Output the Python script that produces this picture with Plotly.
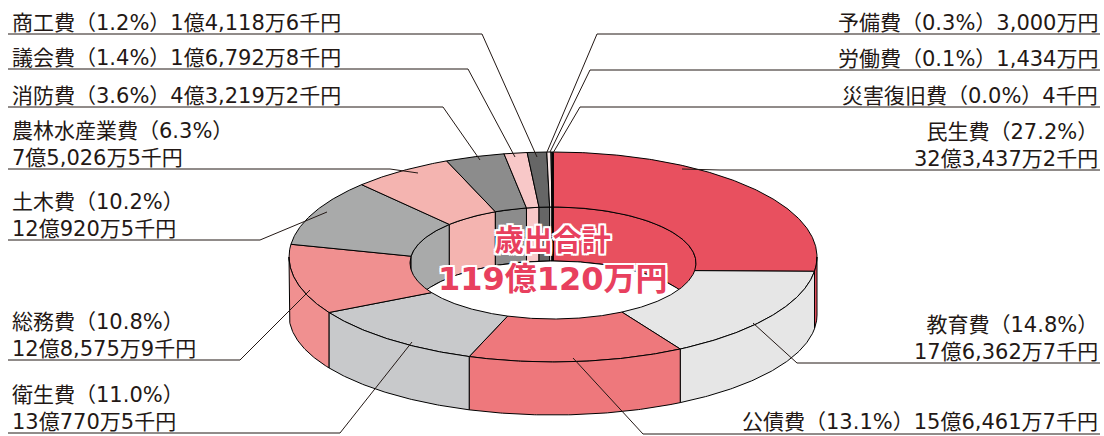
import numpy as np
import plotly.graph_objects as go

# ---------------- data ----------------
categories = ["民生費", "教育費", "公債費", "衛生費", "総務費", "土木費", "農林水産業費",
              "消防費", "議会費", "商工費", "予備費", "労働費", "災害復旧費"]
# amounts in 千円 (thousand yen)
amounts = [3234372, 1763627, 1564617, 1307705, 1285759, 1209205, 750265,
           432192, 167928, 141186, 30000, 14340, 4]
colors = ["#E8505F", "#E6E6E6", "#EE787C", "#C8C9CB", "#F09090", "#A9AAAA", "#F4B4B0",
          "#8C8C8C", "#F8C8C8", "#666666", "#FBE8E8", "#333333", "#000000"]
center_title = "歳出合計"
two_line = {"民生費", "教育費", "衛生費", "総務費", "土木費", "農林水産業費"}

# label layout: side, underline y, underline x-range, leader end point
label_layout = {
    "商工費": ("L", 34, (8, 482), (537, 157)),
    "議会費": ("L", 69, (8, 468), (515, 157)),
    "消防費": ("L", 107, (8, 443), (480, 160)),
    "農林水産業費": ("L", 169, (8, 390), (418, 173)),
    "土木費": ("L", 240, (8, 260), (327, 212)),
    "総務費": ("L", 360, (8, 240), (310, 290)),
    "衛生費": ("L", 433, (8, 340), (412, 342)),
    "予備費": ("R", 34, (597, 1100), (547, 152)),
    "労働費": ("R", 70, (590, 1100), (550, 152)),
    "災害復旧費": ("R", 107, (580, 1100), (553, 153)),
    "民生費": ("R", 170, (720, 1100), (682, 169)),
    "教育費": ("R", 363, (797, 1100), (753, 323)),
    "公債費": ("R", 434, (643, 1100), (573, 358)),
}

# ---------------- geometry (pixel space) ----------------
W, H = 1104, 436
CX, CY, RX, RY = 553, 257, 264, 105      # top face outer ellipse
BCY, BRY = 315, 100                      # bottom outer ellipse
ICY, IRX, IRY = 263, 143, 56             # top face inner ellipse (hole rim)
FCY, FRY = 315, 54                       # hole floor ellipse

total = sum(amounts)
bounds = np.concatenate([[0], np.cumsum(amounts)]) / total * 360.0


def ell(cy, rx, ry, t0, t1, n=None):
    if n is None:
        n = max(2, int(abs(t1 - t0) / 0.5) + 2)
    t = np.radians(np.linspace(t0, t1, n))
    return CX + rx * np.sin(t), cy - ry * np.cos(t)


def clip(a, b, lo, hi):
    s, e = max(a, lo), min(b, hi)
    return (s, e) if e - s > 1e-6 else None


fig = go.Figure()


def poly(xs, ys, color):
    fig.add_trace(go.Scatter(x=np.append(xs, xs[0]), y=np.append(ys, ys[0]), mode="lines",
                             fill="toself", fillcolor=color,
                             line=dict(color="#000000", width=1),
                             hoverinfo="skip", showlegend=False))


# 1. far inner wall of the hole (back half: -90..90)
for i in range(len(amounts)):
    a, b = bounds[i], bounds[i + 1]
    for lo, hi in [(270, 360), (0, 90)]:
        c = clip(a, b, lo, hi)
        if c is None:
            continue
        x1, y1 = ell(ICY, IRX, IRY, c[0], c[1])
        x2, y2 = ell(FCY, IRX, FRY, c[1], c[0])
        poly(np.concatenate([x1, x2]), np.concatenate([y1, y2]), colors[i])

# 2. hole floor
fx, fy = ell(FCY, IRX, FRY, 0, 360, 361)
poly(fx, fy, "#FFFFFF")

# 3. top face
for i in range(len(amounts)):
    a, b = bounds[i], bounds[i + 1]
    if b - a < 1e-6:
        continue
    x1, y1 = ell(CY, RX, RY, a, b)
    x2, y2 = ell(ICY, IRX, IRY, b, a)
    poly(np.concatenate([x1, x2]), np.concatenate([y1, y2]), colors[i])

# 4. outer side wall (front half: 90..270)
for i in range(len(amounts)):
    c = clip(bounds[i], bounds[i + 1], 90, 270)
    if c is None:
        continue
    x1, y1 = ell(CY, RX, RY, c[0], c[1])
    x2, y2 = ell(BCY, RX, BRY, c[1], c[0])
    poly(np.concatenate([x1, x2]), np.concatenate([y1, y2]), colors[i])


# ---------------- labels ----------------
def fmt_amount(v):
    oku, rest = divmod(v, 100000)
    man, sen = divmod(rest, 10)
    s = ""
    if oku:
        s += f"{oku}億"
    if man:
        s += f"{man:,}万"
    if sen:
        s += f"{sen}千"
    return s + "円"


def fmt_total(v):
    oku, rest = divmod(v, 100000)
    man = rest // 10
    return f"{oku}億{man}万円"


LABEL_FONT = dict(family="DejaVu Sans, Noto Sans CJK JP", size=21, color="#231815")
annotations = []
for i, name in enumerate(categories):
    side, uy, (ux0, ux1), (ex, ey) = label_layout[name]
    pct = amounts[i] / total * 100
    head = f"{name}（{pct:.1f}%）"
    amt = fmt_amount(amounts[i])
    text = f"{head}<br>{amt}" if name in two_line else f"{head}{amt}"
    ay = min(uy + 3, H - 0.5)
    if side == "L":
        lx = [ux0, ux1, ex]
        ly = [uy, uy, ey]
        annotations.append(dict(x=10, y=ay, text=text, xanchor="left", yanchor="bottom",
                                align="left", showarrow=False, font=LABEL_FONT))
    else:
        lx = [ex, ux0, ux1]
        ly = [ey, uy, uy]
        annotations.append(dict(x=1100, y=ay, text=text, xanchor="right", yanchor="bottom",
                                align="right", showarrow=False, font=LABEL_FONT))
    fig.add_trace(go.Scatter(x=lx, y=ly, mode="lines", line=dict(color="#231815", width=1),
                             hoverinfo="skip", showlegend=False))

shadow = ("2px 0 0 #fff, -2px 0 0 #fff, 0 2px 0 #fff, 0 -2px 0 #fff, "
          "2px 2px 0 #fff, -2px -2px 0 #fff, 2px -2px 0 #fff, -2px 2px 0 #fff")
title_text = (f"<span style='font-size:29px'>{center_title}</span><br>"
              f"<span style='font-size:32px'>{fmt_total(total)}</span>")
annotations.append(dict(x=CX, y=261, text=title_text,
                        xanchor="center", yanchor="middle", align="center", showarrow=False,
                        font=dict(family="DejaVu Sans, Noto Sans CJK JP", size=30, color="#E8405E",
                                  weight="bold", shadow=shadow)))

fig.update_layout(
    width=W, height=H, margin=dict(l=0, r=0, t=0, b=0),
    paper_bgcolor="#FFFFFF", plot_bgcolor="#FFFFFF",
    xaxis=dict(range=[0, W], visible=False, fixedrange=True),
    yaxis=dict(range=[H, 0], visible=False, fixedrange=True),
    annotations=annotations, showlegend=False,
)

fig.write_html("out.html", config={"displayModeBar": False},
               post_script="document.body.style.margin='0';document.body.style.overflow='hidden';")
